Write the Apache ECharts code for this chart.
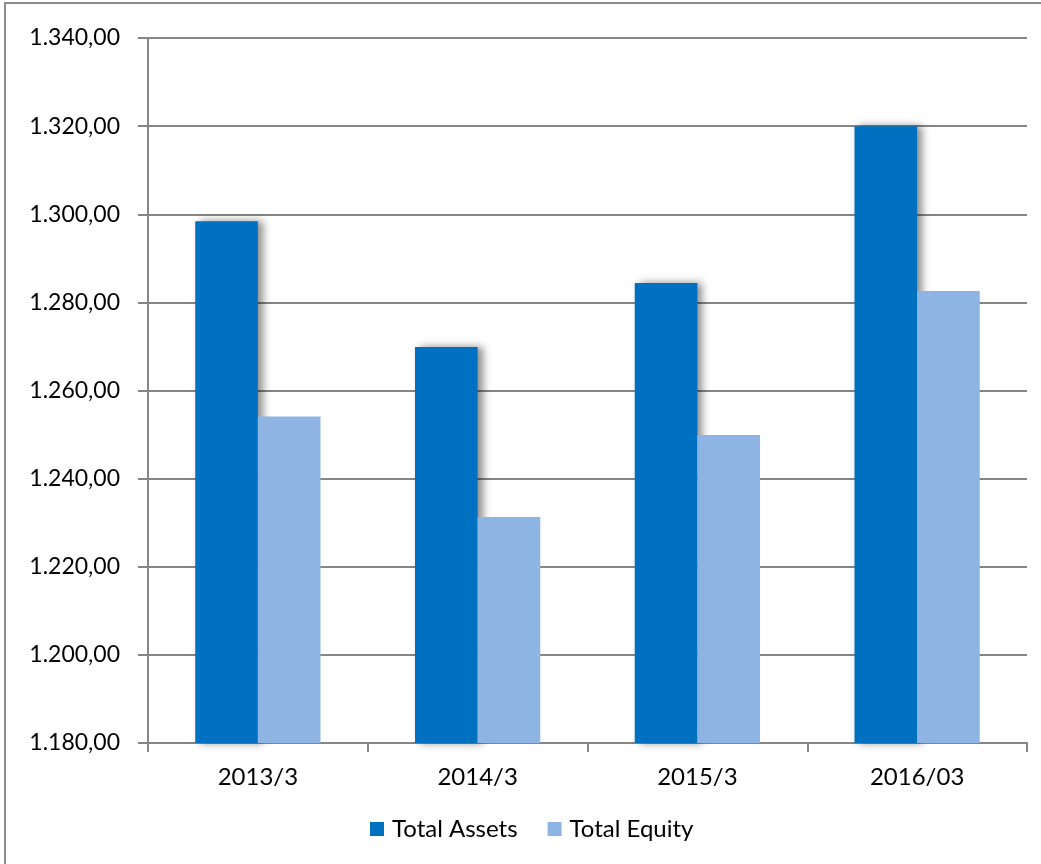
<!DOCTYPE html>
<html>
<head>
<meta charset="utf-8">
<script src="https://cdn.jsdelivr.net/npm/echarts@6/dist/echarts.min.js"></script>
<style>
html,body{margin:0;padding:0;background:#fff;}
#chart{width:1041px;height:864px;}
</style>
</head>
<body>
<div id="chart"></div>
<script>
const categories = ['2013/3', '2014/3', '2015/3', '2016/03'];
const totalAssets = [1298.4, 1269.9, 1284.4, 1320.0];
const totalEquity = [1254.1, 1231.3, 1249.9, 1282.6];
const seriesNames = ['Total Assets', 'Total Equity'];

function fmt(v) {
  const s = v.toFixed(2).split('.');
  const intPart = s[0].replace(/\B(?=(\d{3})+(?!\d))/g, '.');
  return intPart + ',' + s[1];
}

const chart = echarts.init(document.getElementById('chart'), null, {renderer: 'canvas'});
const font = 'Lato, "Open Sans", "Noto Sans", sans-serif';
chart.setOption({
  animation: false,
  backgroundColor: '#fff',
  textStyle: {fontFamily: font},
  graphic: [{
    type: 'rect',
    shape: {x: 5, y: 3, width: 1100, height: 1000},
    style: {fill: 'none', stroke: '#8c8c8c', lineWidth: 2},
    silent: true, z: -1
  }],
  legend: {
    data: seriesNames,
    bottom: 18,
    left: 365,
    itemWidth: 14,
    itemHeight: 14,
    itemGap: 30,
    icon: 'rect',
    textStyle: {fontSize: 24, color: '#000', fontFamily: font, padding: [0, 0, 0, 3]}
  },
  grid: {left: 148, right: 14, top: 38, bottom: 121},
  xAxis: {
    type: 'category',
    data: categories,
    axisLine: {lineStyle: {color: '#868686', width: 2}},
    axisTick: {show: true, length: 9, alignWithLabel: false, lineStyle: {color: '#868686', width: 2}},
    axisLabel: {fontSize: 24, color: '#000', margin: 22, fontFamily: font}
  },
  yAxis: {
    type: 'value',
    min: 1180,
    max: 1340,
    interval: 20,
    axisLine: {show: true, lineStyle: {color: '#868686', width: 2}},
    axisTick: {show: true, length: 10, lineStyle: {color: '#868686', width: 2}},
    splitLine: {lineStyle: {color: '#868686', width: 2}},
    axisLabel: {fontSize: 23, color: '#000', margin: 28, formatter: fmt, fontFamily: font}
  },
  series: [
    {
      name: seriesNames[0],
      type: 'bar',
      data: totalAssets,
      barGap: '0%',
      barCategoryGap: '43%',
      itemStyle: {
        color: '#0070C0',
        shadowColor: 'rgba(0,0,0,0.45)',
        shadowBlur: 8,
        shadowOffsetX: 5,
        shadowOffsetY: 0
      },
      z: 3
    },
    {
      name: seriesNames[1],
      type: 'bar',
      data: totalEquity,
      itemStyle: {color: '#8EB4E3'},
      z: 4
    }
  ]
});
</script>
</body>
</html>
